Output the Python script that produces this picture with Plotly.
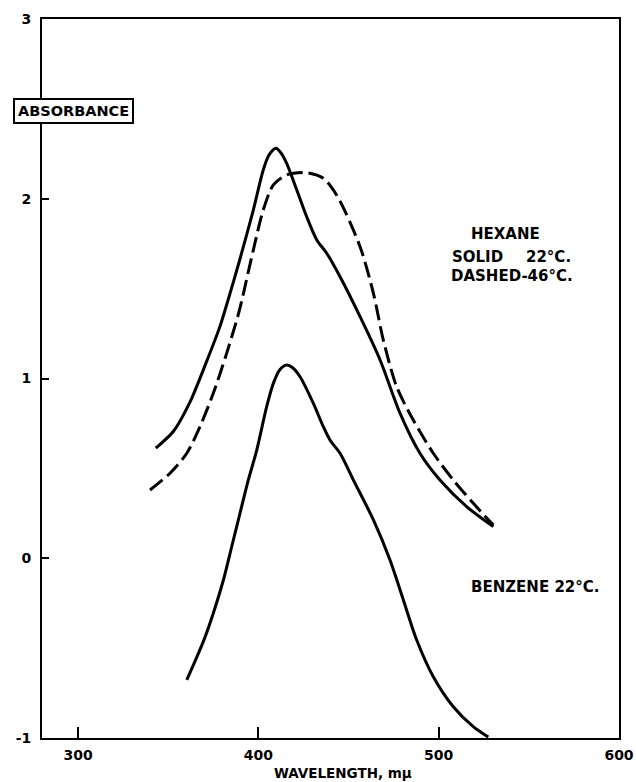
import plotly.graph_objects as go

# Hexane 22 C (solid)
hex_solid_x = [343.1, 352.8, 362.1, 371.3, 378.7, 383.0, 389.8, 397.2, 402.7, 406.0, 409.8, 412.5, 415.7, 421.3, 426.8, 432.4, 437.9, 445.3, 456.4, 467.5, 478.6, 489.6, 500.7, 515.5, 530.3]
hex_solid_y = [0.613, 0.705, 0.870, 1.095, 1.290, 1.43, 1.665, 1.937, 2.160, 2.245, 2.281, 2.255, 2.197, 2.049, 1.900, 1.771, 1.697, 1.566, 1.344, 1.103, 0.806, 0.584, 0.435, 0.287, 0.176]

# Hexane -46 C (dashed)
hex_dash_x = [339.9, 351.0, 360.3, 367.6, 375.0, 382.4, 388.0, 390.0, 397.2, 402.7, 408.3, 415.7, 426.8, 436.0, 444.0, 456.4, 463.8, 469.3, 476.7, 485.9, 497.0, 508.1, 519.2, 530.3]
hex_dash_y = [0.380, 0.473, 0.584, 0.732, 0.918, 1.140, 1.325, 1.40, 1.715, 1.937, 2.077, 2.132, 2.145, 2.114, 2.010, 1.733, 1.474, 1.214, 0.954, 0.769, 0.584, 0.435, 0.306, 0.185]

# Benzene 22 C
benz_x = [360.3, 365.0, 370.0, 375.0, 380.6, 385.2, 389.8, 394.0, 399.1, 404.6, 408.3, 412.0, 415.7, 419.0, 423.1, 430.5, 436.0, 439.7, 445.3, 452.7, 463.8, 473.0, 480.4, 487.8, 497.0, 508.1, 519.2, 527.5]
benz_y = [-0.677, -0.570, -0.450, -0.306, -0.121, 0.064, 0.250, 0.42, 0.602, 0.843, 0.973, 1.05, 1.075, 1.06, 1.010, 0.862, 0.732, 0.658, 0.584, 0.435, 0.213, -0.010, -0.232, -0.455, -0.659, -0.826, -0.937, -0.995]

x_ticks = [300, 400, 500, 600]
x_tick_text = ["300", "400", "500", "600"]
y_ticks = [-1, 0, 1, 2, 3]
y_tick_text = ["-1", "0", "1", "2", "3"]

FONT = "DejaVu Sans"

fig = go.Figure()
line_common = dict(color="black", width=3, shape="spline", smoothing=0.8)
fig.add_trace(go.Scatter(x=hex_solid_x, y=hex_solid_y, mode="lines", line=line_common, showlegend=False))
fig.add_trace(go.Scatter(x=hex_dash_x, y=hex_dash_y, mode="lines", line=dict(line_common, dash="16px,6px"), showlegend=False))
fig.add_trace(go.Scatter(x=benz_x, y=benz_y, mode="lines", line=line_common, showlegend=False))

L, R, T, B = 42, 17, 19, 44
W, H = 636, 782
pw, ph = W - L - R, H - T - B

def px(xp):
    return (xp - L) / pw

def py(yp):
    return (H - B - yp) / ph

def note(text, xp, yp, xanchor="center", size=15, **kw):
    return dict(text="<b>" + text + "</b>", x=px(xp), y=py(yp), xref="paper", yref="paper",
                xanchor=xanchor, yanchor="middle", showarrow=False,
                font=dict(family=FONT, size=size, color="black"), **kw)

ann = [
    note("ABSORBANCE", 73, 111, size=14.5, bgcolor="white", bordercolor="black", borderwidth=2, borderpad=3),
    note("HEXANE", 505, 234),
    note("SOLID", 450, 257, xanchor="left"),
    note("22°C.", 573, 257, xanchor="right"),
    note("DASHED-46°C.", 449, 276, xanchor="left"),
    note("BENZENE 22°C.", 601, 587, xanchor="right"),
    note("WAVELENGTH, mμ", 343, 773, size=13.5),
]

fig.update_layout(
    width=W, height=H,
    margin=dict(l=L, r=R, t=T, b=B, pad=0, autoexpand=False),
    paper_bgcolor="white", plot_bgcolor="white",
    annotations=ann,
    showlegend=False,
)
tickfont = dict(family=FONT, size=14, color="black")
fig.update_xaxes(range=[280, 600], tickvals=x_ticks, ticktext=["<b>%s</b>" % t for t in x_tick_text],
                 ticks="inside", ticklen=11, tickwidth=1.5, tickcolor="black", automargin=False,
                 showline=True, linecolor="black", linewidth=2, mirror=True, showgrid=False, zeroline=False,
                 tickfont=tickfont, ticklabelstandoff=3)
fig.update_yaxes(range=[-1, 3], tickvals=y_ticks, ticktext=["<b>%s</b>" % t for t in y_tick_text],
                 ticks="inside", ticklen=7, tickwidth=1.5, tickcolor="black", automargin=False,
                 showline=True, linecolor="black", linewidth=2, mirror=True, showgrid=False, zeroline=False,
                 tickfont=tickfont, ticklabelstandoff=6)

fig.write_html("out.html")
